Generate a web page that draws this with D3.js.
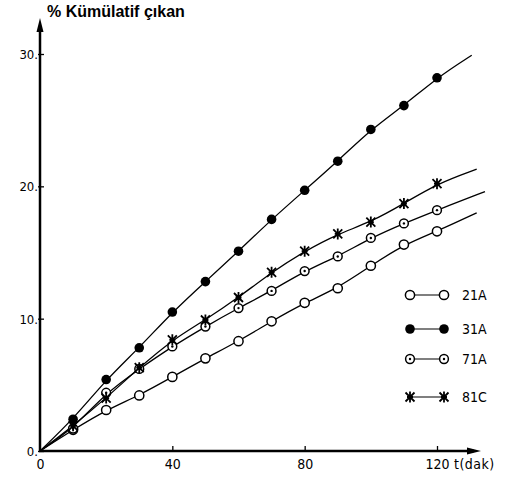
<!DOCTYPE html>
<html><head><meta charset="utf-8">
<script src="https://cdn.jsdelivr.net/npm/d3@7"></script>
<style>body{margin:0;background:#fff}svg{display:block}</style>
</head><body>
<script>
const times = [10,20,30,40,50,60,70,80,90,100,110,120];
const s21A = [1.6,3.1,4.2,5.6,7.0,8.3,9.8,11.2,12.3,14.0,15.6,16.6];
const s31A = [2.4,5.4,7.8,10.5,12.8,15.1,17.5,19.7,21.9,24.3,26.1,28.2];
const s71A = [1.7,4.4,6.2,7.9,9.4,10.8,12.1,13.6,14.7,16.1,17.2,18.2];
const s81C = [1.9,4.0,6.3,8.4,9.9,11.6,13.5,15.1,16.4,17.3,18.7,20.2];
// fitted curve extension end points [t, %]
const ends = {"21A":[132,18.0],"31A":[130.5,29.9],"71A":[134.5,19.6],"81C":[132,21.3]};
const xTicks = [0,40,80,120];
const yTicks = [0,10,20,30];
const names = ["21A","31A","71A","81C"];
const seriesVals = {"21A":s21A,"31A":s31A,"71A":s71A,"81C":s81C};
const labelY = "% Kümülatif çıkan";
const labelX = "t(dak)";

const W=522,H=479;
const svg = d3.select("body").append("svg").attr("width",W).attr("height",H);
const x = d3.scaleLinear().domain([0,120]).range([40,437]);
const y = d3.scaleLinear().domain([0,30]).range([451,54]);
const font = "'DejaVu Sans Condensed','Liberation Sans Narrow',Arial,sans-serif";

// axes
const ax = svg.append("g").attr("stroke","#000").attr("fill","#000");
ax.append("line").attr("x1",x(0)).attr("x2",x(0)).attr("y1",y(0)+1).attr("y2",28).attr("stroke-width",2.5);
ax.append("path").attr("d",`M${x(0)},18 L${x(0)-3.5},32 L${x(0)+3.5},32 Z`).attr("stroke","none");
ax.append("line").attr("x1",x(0)-1).attr("x2",474).attr("y1",y(0)).attr("y2",y(0)).attr("stroke-width",2.5);
ax.append("path").attr("d",`M481,${y(0)} L467,${y(0)-3.5} L467,${y(0)+3.5} Z`).attr("stroke","none");

const yAxis = d3.axisLeft(y).tickValues(yTicks).tickSize(0).tickFormat(d=>d+".");
const gy = svg.append("g").attr("transform",`translate(${x(0)},0)`).call(yAxis);
gy.select(".domain").remove();
gy.selectAll("text").attr("x",-2).attr("dy","0.35em").style("font-family",font).style("font-size","13px").attr("fill","#000");
gy.selectAll(".tick").append("line").attr("x1",-2).attr("x2",4).attr("stroke","#000").attr("stroke-width",1.3);

const xAxis = d3.axisBottom(x).tickValues(xTicks).tickSize(0);
const gx = svg.append("g").attr("transform",`translate(0,${y(0)})`).call(xAxis);
gx.select(".domain").remove();
gx.selectAll("text").attr("y",8).attr("dy","0.71em").style("font-family",font).style("font-size","14px").attr("fill","#000");
gx.selectAll(".tick").filter(d=>d>0).append("line").attr("y1",-5).attr("y2",0).attr("stroke","#000").attr("stroke-width",1.3);

svg.append("text").attr("x",47).attr("y",17).text(labelY)
  .style("font-family","'Liberation Sans',Arial,sans-serif").style("font-weight","bold").style("font-size","16px");
svg.append("text").attr("x",454).attr("y",469).text(labelX)
  .style("font-family",font).style("font-size","14px").style("letter-spacing","0.5px");

// lines
const line = d3.line().x(d=>x(d[0])).y(d=>y(d[1])).curve(d3.curveBasis);
names.forEach(n=>{
  const pts = [[0,0]].concat(times.map((t,i)=>[t,seriesVals[n][i]])).concat([ends[n]]);
  svg.append("path").datum(pts).attr("d",line).attr("fill","none").attr("stroke","#000").attr("stroke-width",1.3);
});

// markers
function marker(g,n,cx,cy){
  if(n==="21A"){
    g.append("circle").attr("cx",cx).attr("cy",cy).attr("r",4.6).attr("fill","#fff").attr("stroke","#000").attr("stroke-width",1.5);
  } else if(n==="31A"){
    g.append("circle").attr("cx",cx).attr("cy",cy).attr("r",4.8).attr("fill","#000");
  } else if(n==="71A"){
    g.append("circle").attr("cx",cx).attr("cy",cy).attr("r",4.4).attr("fill","#fff").attr("stroke","#000").attr("stroke-width",1.5);
    g.append("circle").attr("cx",cx).attr("cy",cy).attr("r",1.2).attr("fill","#000");
  } else {
    const s=4.5;
    g.append("path").attr("d",`M${cx-s},${cy-s} L${cx+s},${cy+s} M${cx+s},${cy-s} L${cx-s},${cy+s} M${cx},${cy-s-1} L${cx},${cy+s+1} M${cx-3},${cy} L${cx+3},${cy}`)
      .attr("stroke","#000").attr("stroke-width",1.8).attr("fill","none");
  }
}
const mg = svg.append("g");
names.forEach(n=>{
  times.forEach((t,i)=>marker(mg,n,x(t),y(seriesVals[n][i])));
});

// legend
const legY = [295,329,359,397];
names.forEach((n,i)=>{
  const g = svg.append("g");
  g.append("line").attr("x1",410).attr("x2",444).attr("y1",legY[i]).attr("y2",legY[i]).attr("stroke","#000").attr("stroke-width",1.2);
  marker(g,n,410,legY[i]); marker(g,n,444,legY[i]);
  g.append("text").attr("x",462).attr("y",legY[i]).attr("dy","0.35em").text(n)
    .style("font-family",font).style("font-size","14px");
});
</script>
</body></html>
